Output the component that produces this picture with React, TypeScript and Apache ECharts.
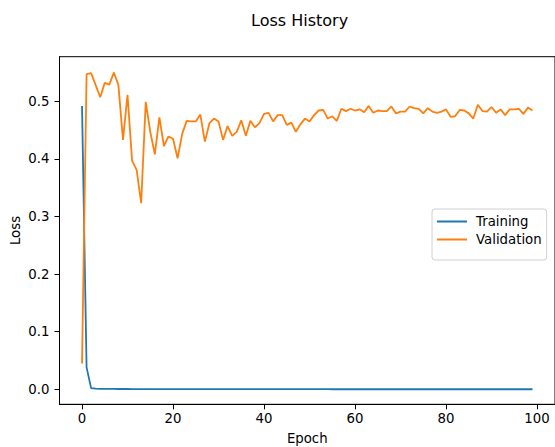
import React, { useEffect, useRef } from "react";
import * as echarts from "echarts";

const epochs: number[] = Array.from({ length: 100 }, (_, i) => i);

const trainingLoss: number[] = [
  0.492, 0.038, 0.002, 0.0012, 0.0009, 0.0008, 0.0007, 0.0007, 0.0006, 0.0006,
  0.0006, 0.0005, 0.0005, 0.0005, 0.0005, 0.0004, 0.0004, 0.0004, 0.0004, 0.0004,
  0.0004, 0.0003, 0.0003, 0.0003, 0.0003, 0.0003, 0.0003, 0.0003, 0.0003, 0.0003,
  0.0003, 0.0003, 0.0002, 0.0002, 0.0002, 0.0002, 0.0002, 0.0002, 0.0002, 0.0002,
  0.0002, 0.0002, 0.0002, 0.0002, 0.0002, 0.0002, 0.0002, 0.0002, 0.0002, 0.0002,
  0.0002, 0.0002, 0.0002, 0.0002, 0.0002, 0.0001, 0.0001, 0.0001, 0.0001, 0.0001,
  0.0001, 0.0001, 0.0001, 0.0001, 0.0001, 0.0001, 0.0001, 0.0001, 0.0001, 0.0001,
  0.0001, 0.0001, 0.0001, 0.0001, 0.0001, 0.0001, 0.0001, 0.0001, 0.0001, 0.0001,
  0.0001, 0.0001, 0.0001, 0.0001, 0.0001, 0.0001, 0.0001, 0.0001, 0.0001, 0.0001,
  0.0001, 0.0001, 0.0001, 0.0001, 0.0001, 0.0001, 0.0001, 0.0001, 0.0001, 0.0001,
];

const validationLoss: number[] = [
  0.045, 0.547, 0.549, 0.528, 0.507, 0.532, 0.529, 0.55, 0.528, 0.433,
  0.511, 0.397, 0.381, 0.323, 0.499, 0.447, 0.408, 0.472, 0.422, 0.439,
  0.435, 0.401, 0.443, 0.466, 0.465, 0.465, 0.477, 0.43, 0.462, 0.47,
  0.465, 0.433, 0.457, 0.44, 0.447, 0.467, 0.44, 0.466, 0.455, 0.462,
  0.478, 0.48, 0.465, 0.476, 0.476, 0.459, 0.463, 0.447, 0.46, 0.47,
  0.465, 0.476, 0.484, 0.485, 0.47, 0.474, 0.466, 0.487, 0.483, 0.487,
  0.484, 0.486, 0.481, 0.492, 0.48, 0.484, 0.483, 0.483, 0.491, 0.479,
  0.482, 0.482, 0.491, 0.488, 0.487, 0.479, 0.488, 0.482, 0.48, 0.482,
  0.486, 0.473, 0.474, 0.485, 0.484, 0.479, 0.47, 0.494, 0.483, 0.482,
  0.49, 0.48, 0.486, 0.476, 0.486, 0.486, 0.487, 0.478, 0.489, 0.484,
];

const xTicks: number[] = [0, 20, 40, 60, 80, 100];
const yTicks: number[] = [0, 0.1, 0.2, 0.3, 0.4, 0.5];

const FONT = "DejaVu Sans";
const FS = 13.3;

export default function App() {
  const ref = useRef<HTMLDivElement>(null);
  useEffect(() => {
    if (!ref.current) return;
    const chart = echarts.init(ref.current, undefined, { renderer: "svg" });
    chart.setOption({
      animation: false,
      backgroundColor: "#ffffff",
      textStyle: { fontFamily: FONT },
      title: {
        text: "Loss History",
        left: 246,
        top: 7,
        textStyle: { fontFamily: FONT, fontSize: 16, fontWeight: "normal", color: "#000" },
      },
      grid: {
        left: 59.5,
        right: 0,
        top: 56.7,
        bottom: 42.7,
        containLabel: false,
        outerBoundsMode: "none",
        show: true,
        borderColor: "#000",
        borderWidth: 1,
        backgroundColor: "transparent",
      },
      legend: {
        orient: "vertical",
        left: 432,
        top: 209,
        padding: [6, 5, 14, 5],
        itemGap: 5,
        itemWidth: 30,
        itemHeight: 2,
        icon: "rect",
        borderColor: "#d0d0d0",
        borderWidth: 1,
        borderRadius: 3,
        backgroundColor: "rgba(255,255,255,0.8)",
        textStyle: { fontFamily: FONT, fontSize: FS, color: "#000", padding: [0, 0, 0, 4] },
        data: ["Training", "Validation"],
      },
      xAxis: {
        type: "value",
        min: -4.95,
        max: 103.95,
        name: "Epoch",
        nameLocation: "middle",
        nameGap: 28,
        nameMoveOverlap: false,
        nameTextStyle: { fontFamily: FONT, fontSize: FS, color: "#000" },
        splitLine: { show: false },
        axisLine: { show: true, onZero: false, lineStyle: { color: "#000", width: 1 } },
        axisTick: { show: true, length: 5, lineStyle: { color: "#000" }, customValues: xTicks },
        axisLabel: {
          show: true,
          margin: 8,
          fontFamily: FONT,
          fontSize: FS,
          color: "#000",
          customValues: xTicks,
        },
      },
      yAxis: {
        type: "value",
        min: -0.026,
        max: 0.5774,
        name: "Loss",
        nameLocation: "middle",
        nameGap: 38,
        nameMoveOverlap: false,
        nameRotate: 90,
        nameTextStyle: { fontFamily: FONT, fontSize: FS, color: "#000" },
        splitLine: { show: false },
        axisLine: { show: true, onZero: false, lineStyle: { color: "#000", width: 1 } },
        axisTick: { show: true, length: 5, lineStyle: { color: "#000" }, customValues: yTicks },
        axisLabel: {
          show: true,
          margin: 10,
          fontFamily: FONT,
          fontSize: FS,
          color: "#000",
          customValues: yTicks,
          formatter: (v: number) => v.toFixed(1),
        },
      },
      series: [
        {
          name: "Training",
          type: "line",
          data: epochs.map((e, i) => [e, trainingLoss[i]]),
          showSymbol: false,
          symbol: "none",
          color: "#1f77b4",
          lineStyle: { color: "#1f77b4", width: 1.8 },
        },
        {
          name: "Validation",
          type: "line",
          data: epochs.map((e, i) => [e, validationLoss[i]]),
          showSymbol: false,
          symbol: "none",
          color: "#ff7f0e",
          lineStyle: { color: "#ff7f0e", width: 1.8 },
        },
      ],
    });
    return () => chart.dispose();
  }, []);
  return (
    <div
      ref={ref}
      style={{ position: "fixed", left: 0, top: 0, width: 555, height: 447 }}
    />
  );
}
